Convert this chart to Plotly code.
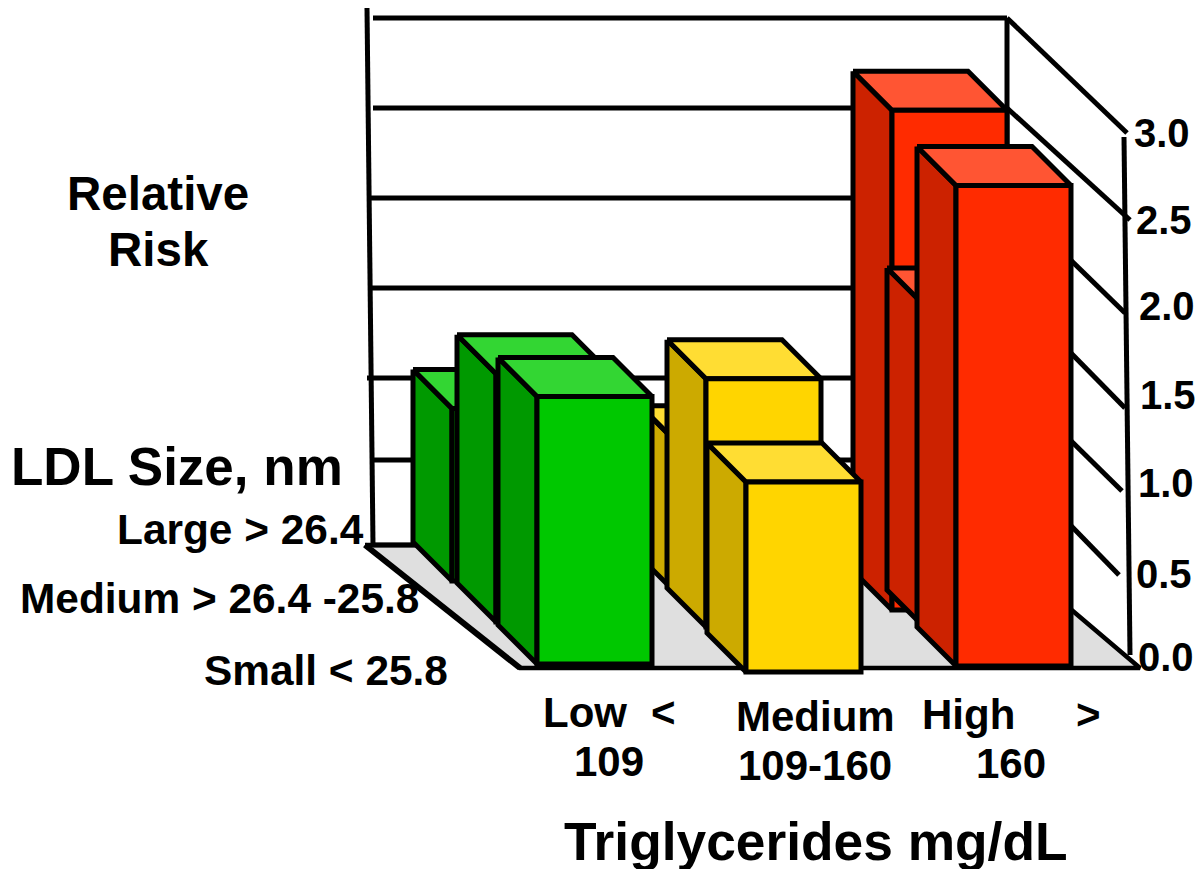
import plotly.graph_objects as go

# ---- data ----
ldl_sizes = ["Large > 26.4", "Medium > 26.4 -25.8", "Small < 25.8"]
tg_groups = ["Low", "Medium", "High"]
risk_large = [0.98, 0.86, 2.84]
risk_medium = [1.41, 1.41, 1.83]
risk_small = [1.52, 1.08, 2.73]
tick_values = [0.0, 0.5, 1.0, 1.5, 2.0, 2.5, 3.0]
tick_labels = ["0.0", "0.5", "1.0", "1.5", "2.0", "2.5", "3.0"]

# ---- oblique scale of the hand-drawn 3D box ----
PX_PER_UNIT = 176
BAR_W = 115
DEPTH = 39
COL_X = [[413, 640, 853], [457, 667, 887], [498, 707, 917]]
BASE_Y = [[542, 557, 571], [583, 588, 590], [625, 633, 627]]
WALL_Y = [545, 460, 378, 288, 198, 108, 18]
WALL_X0 = [373, 373, 367, 370, 370, 373, 373]
WALL_X1 = 1007
SIDE_END_X = [1137, 1119, 1122, 1125, 1125, 1130, 1127]
SIDE_END_Y = [665, 575, 491, 408, 313, 220, 133]
TICK_X = [1136, 1134, 1136, 1138, 1137, 1134, 1132]
TICK_Y = [657, 574, 483, 395, 306, 220, 133]

GREEN = ("#00C800", "#009900", "#33D633")
YELLOW = ("#FFD500", "#CCAA00", "#FFDD33")
RED = ("#FF2B00", "#CC2200", "#FF5533")
palette = [GREEN, YELLOW, RED]
LW = 5
FONT = "Liberation Sans, Arial, sans-serif"

fig = go.Figure()


def line(xs, ys, width=LW):
    fig.add_trace(go.Scatter(x=xs, y=ys, mode="lines", hoverinfo="skip",
                             line=dict(color="black", width=width)))


def poly(xs, ys, color, width=LW):
    fig.add_trace(go.Scatter(x=xs + xs[:1], y=ys + ys[:1], mode="lines", fill="toself",
                             fillcolor=color, hoverinfo="skip",
                             line=dict(color="black", width=width)))


# floor
poly([365, 520, 1140, 995], [545, 668, 668, 545], "#DFDFDF", 4.5)
line([365, 520], [545, 668], 6)

# back wall and side wall
line([367, 373], [8, 545])
for i, v in enumerate(tick_values):
    line([WALL_X0[i], WALL_X1], [WALL_Y[i], WALL_Y[i]])
    if v > 0:
        line([WALL_X1, SIDE_END_X[i]], [WALL_Y[i], SIDE_END_Y[i]])
line([WALL_X1, WALL_X1], [18, 545])
line([1124, 1130], [137, 655])


def bar(x, base, value, colors):
    h = value * PX_PER_UNIT
    top = base - h
    poly([x, x + DEPTH, x + DEPTH, x], [top, top + DEPTH, base + DEPTH, base], colors[1])
    poly([x, x + BAR_W, x + BAR_W + DEPTH, x + DEPTH], [top, top, top + DEPTH, top + DEPTH], colors[2])
    poly([x + DEPTH, x + DEPTH + BAR_W, x + DEPTH + BAR_W, x + DEPTH],
         [top + DEPTH, top + DEPTH, base + DEPTH, base + DEPTH], colors[0])


for r, row in enumerate([risk_large, risk_medium, risk_small]):
    for c, val in enumerate(row):
        bar(COL_X[r][c], BASE_Y[r][c], val, palette[c])


def txt(x, y, s, size, anchor="center"):
    return dict(x=x, y=y, text=s, showarrow=False, xanchor=anchor, yanchor="middle",
                font=dict(family=FONT, size=size, color="black"))


notes = [
    txt(158, 193, "<b>Relative</b>", 47.5), txt(158, 249, "<b>Risk</b>", 47.5),
    txt(9, 466, "<b>LDL Size, nm</b>", 53, "left"),
    txt(366, 529, "<b>%s</b>" % ldl_sizes[0].replace(">", "&gt;"), 42.4, "right"),
    txt(421, 598, "<b>%s</b>" % ldl_sizes[1].replace(">", "&gt;"), 42.4, "right"),
    txt(450, 670, "<b>%s</b>" % ldl_sizes[2].replace("<", "&lt;"), 42.4, "right"),
    txt(541, 712, "<b>%s</b>" % tg_groups[0], 42, "left"),
    txt(649, 712, "<b>&lt;</b>", 42, "left"),
    txt(609, 761, "<b>109</b>", 42),
    txt(815, 716, "<b>%s</b>" % tg_groups[1], 42),
    txt(815, 765, "<b>109-160</b>", 42),
    txt(920, 714, "<b>%s</b>" % tg_groups[2], 42, "left"),
    txt(1074, 714, "<b>&gt;</b>", 42, "left"),
    txt(1011, 763, "<b>160</b>", 42),
    txt(816, 841, "<b>Triglycerides mg/dL</b>", 53.3),
]
for i, lab in enumerate(tick_labels):
    notes.append(txt(TICK_X[i], TICK_Y[i], "<b>%s</b>" % lab, 40, "left"))

fig.update_layout(
    width=1195, height=869, showlegend=False,
    margin=dict(l=0, r=0, t=0, b=0),
    paper_bgcolor="white", plot_bgcolor="white",
    xaxis=dict(range=[0, 1195], visible=False, fixedrange=True),
    yaxis=dict(range=[869, 0], visible=False, fixedrange=True),
    annotations=notes,
)
fig.write_html("out.html", config={"displayModeBar": False},
               post_script="document.body.style.margin='0';document.documentElement.style.overflow='hidden';")
